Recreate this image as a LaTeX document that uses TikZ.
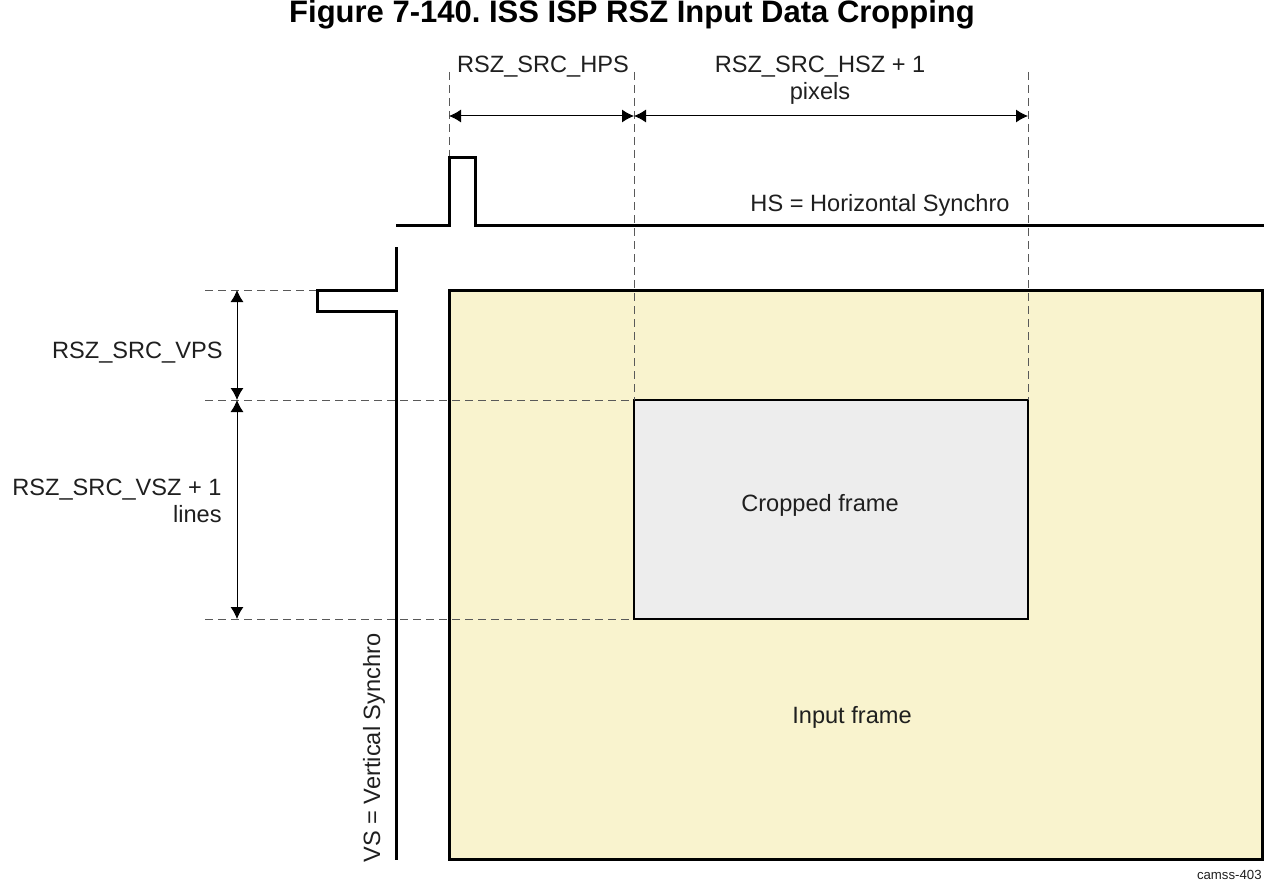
\documentclass[tikz,border=0pt]{standalone}
\usepackage{fontspec}
\setmainfont{Liberation Sans}
\usetikzlibrary{arrows.meta,positioning}
\definecolor{inputfill}{RGB}{249,243,206}
\definecolor{cropfill}{RGB}{237,237,237}
\tikzset{
  title/.style = {
    font=\fontsize{15.5}{17}\selectfont\bfseries\frenchspacing,
    inner sep=0pt
  },
  label/.style = {
    font=\fontsize{11.8}{13.5}\selectfont,
    text=black!88,
    inner sep=0pt
  },
  tag/.style = {
    font=\fontsize{6.6}{8}\selectfont,
    text=black!88,
    inner sep=0pt
  },
  signal/.style = {
    line width=1.5pt,
    black
  },
  input_frame/.style = {
    draw=black,
    line width=1.5pt,
    fill=inputfill
  },
  crop_frame/.style = {
    draw=black,
    line width=1pt,
    fill=cropfill
  },
  guide/.style = {
    black!65,
    line width=0.5pt,
    dash pattern=on 4pt off 2.5pt
  },
  dimline/.style = {
    line width=0.5pt,
    {Latex[length=6pt,width=6.5pt]}-{Latex[length=6pt,width=6.5pt]}
  }
}

\begin{document}
\begin{tikzpicture}[x=0.5pt, y=-0.5pt]
\useasboundingbox (0,0) rectangle (1264,883);

% Titel
\node[title, anchor=base] (title) at (632,23) {Figure 7-140. ISS ISP RSZ Input Data Cropping};

% Eckpunkte der Frames
\coordinate (in_nw) at (449,290);
\coordinate (in_se) at (1262,859);
\coordinate (crop_nw) at (634,400);
\coordinate (crop_ne) at (1028,400);
\coordinate (crop_sw) at (634,619);
\coordinate (crop_se) at (1028,619);

% HS Signal
\coordinate (hs_start) at (396,225);
\coordinate (hs_rise) at (449,225);
\coordinate (hs_top_l) at (449,158);
\coordinate (hs_top_r) at (475,158);
\coordinate (hs_fall) at (475,225);
\coordinate (hs_end) at (1264,225);

% VS Signal
\coordinate (vs_start) at (396,247);
\coordinate (vs_notch_r) at (396,290);
\coordinate (vs_notch_tl) at (317,290);
\coordinate (vs_notch_bl) at (317,311);
\coordinate (vs_notch_br) at (396,311);
\coordinate (vs_end) at (396,860);

% Hilfslinien
\coordinate (g_hps) at (449,72);
\coordinate (g_hsz_l) at (634,72);
\coordinate (g_hsz_r) at (1028,72);
\coordinate (g_vps) at (205,290);
\coordinate (g_vsz_t) at (205,400);
\coordinate (g_vsz_b) at (205,619);

% Masspfeile
\coordinate (dim_h1) at (449,116);
\coordinate (dim_h2) at (634,116);
\coordinate (dim_h3) at (1028,116);
\coordinate (dim_v1) at (237,290);
\coordinate (dim_v2) at (237,400);
\coordinate (dim_v3) at (237,619);

% Frames
\draw[input_frame] (in_nw) rectangle (in_se);
\draw[crop_frame] (crop_nw) rectangle (crop_se);

% Hilfslinien zeichnen
\draw[guide] (g_hps) -- (hs_top_l);
\draw[guide] (g_hsz_l) -- (crop_nw);
\draw[guide] (g_hsz_r) -- (crop_ne);
\draw[guide] (g_vps) -- (vs_notch_tl);
\draw[guide] (g_vsz_t) -- (crop_nw);
\draw[guide] (g_vsz_b) -- (crop_sw);

% Signale
\draw[signal] (hs_start) -- (hs_rise) -- (hs_top_l) -- (hs_top_r) -- (hs_fall) -- (hs_end);
\draw[signal] (vs_start) -- (vs_notch_r) -- (vs_notch_tl) -- (vs_notch_bl) -- (vs_notch_br) -- (vs_end);

% Masse
\draw[dimline] (dim_h1) -- (dim_h2);
\draw[dimline] (dim_h2) -- (dim_h3);
\draw[dimline] (dim_v1) -- (dim_v2);
\draw[dimline] (dim_v2) -- (dim_v3);

% Beschriftungen
\node[label, anchor=base] (hps_text) at (543,73) {RSZ\_SRC\_HPS};
\node[label, anchor=north, align=center] (hsz_text) at (820,56) {RSZ\_SRC\_HSZ + 1\\pixels};
\node[label, anchor=base] (hs_text) at (880,212) {HS = Horizontal Synchro};
\node[label, anchor=base east] (vps_text) at (223,358) {RSZ\_SRC\_VPS};
\node[label, anchor=north east, align=right] (vsz_text) at (222,479) {RSZ\_SRC\_VSZ + 1\\lines};
\node[label, anchor=base] (crop_text) at (820,511) {Cropped frame};
\node[label, anchor=base] (input_text) at (852,723) {Input frame};
\node[label, anchor=base, rotate=90] (vs_text) at (380,748) {VS = Vertical Synchro};
\node[tag, anchor=base east] (id_text) at (1262,879) {camss-403};

\end{tikzpicture}
\end{document}
